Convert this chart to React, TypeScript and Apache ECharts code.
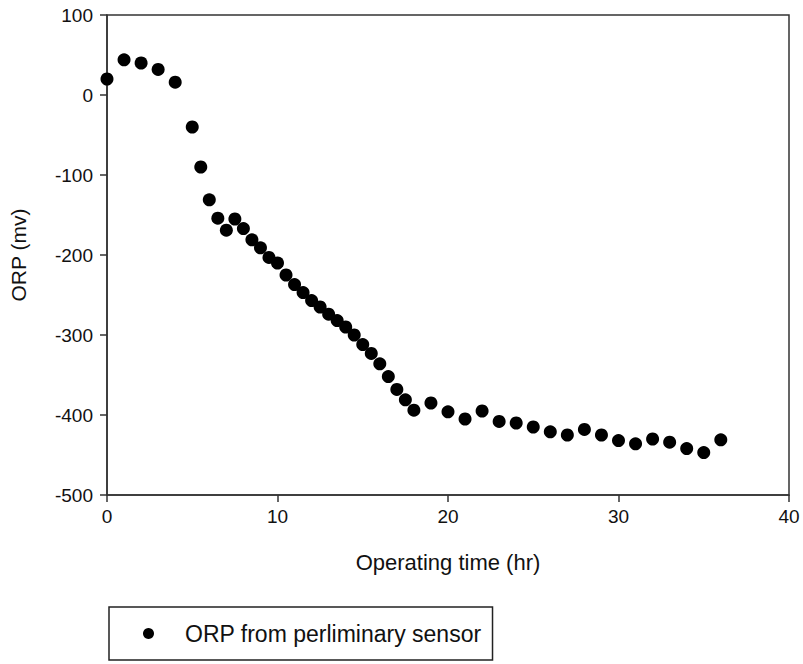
import React, { useEffect, useRef } from "react";
import * as echarts from "echarts";

const timeHr = [0, 1, 2, 3, 4, 5, 5.5, 6, 6.5, 7, 7.5, 8, 8.5, 9, 9.5, 10, 10.5, 11, 11.5, 12, 12.5, 13, 13.5, 14, 14.5, 15, 15.5, 16, 16.5, 17, 17.5, 18, 19, 20, 21, 22, 23, 24, 25, 26, 27, 28, 29, 30, 31, 32, 33, 34, 35, 36];
const orpMv = [20, 44, 40, 32, 16, -40, -90, -131, -154, -169, -155, -167, -181, -191, -203, -210, -225, -237, -247, -257, -265, -274, -282, -290, -300, -312, -323, -336, -352, -368, -381, -394, -385, -396, -405, -395, -408, -410, -415, -421, -425, -418, -425, -432, -436, -430, -434, -442, -447, -431];
const seriesName = "ORP from perliminary sensor";
const xTitle = "Operating time (hr)";
const yTitle = "ORP (mv)";

export default function App() {
  const ref = useRef<HTMLDivElement>(null);
  useEffect(() => {
    if (!ref.current) return;
    const chart = echarts.init(ref.current, null, { renderer: "svg" });
    const font = "'Liberation Sans', Arial, sans-serif";
    const data = timeHr.map((t, i) => [t, orpMv[i]]);
    chart.setOption({
      animation: false,
      backgroundColor: "#fff",
      textStyle: { fontFamily: font },
      grid: {
        left: 107,
        right: 14,
        top: 15,
        bottom: 169,
        show: true,
        borderColor: "#333",
        borderWidth: 1.5,
        backgroundColor: "transparent",
      },
      legend: {
        left: 109,
        top: 607,
        orient: "horizontal",
        borderColor: "#222",
        borderWidth: 1.5,
        padding: [15, 11, 15, 34],
        itemWidth: 11,
        itemHeight: 11,
        itemGap: 5,
        data: [{ name: seriesName, icon: "circle", itemStyle: { color: "#000", opacity: 1 } }],
        textStyle: {
          fontFamily: font,
          fontSize: 23,
          color: "#111",
          padding: [0, 0, 0, 26],
        },
      },
      xAxis: {
        type: "value",
        min: 0,
        max: 40,
        interval: 10,
        name: xTitle,
        nameLocation: "middle",
        nameGap: 56,
        nameTextStyle: { fontFamily: font, fontSize: 22, color: "#111" },
        axisLine: { show: true, onZero: false, lineStyle: { color: "#333", width: 1.5 } },
        axisTick: { show: true, inside: false, length: 7, lineStyle: { color: "#333", width: 1.5 } },
        axisLabel: { fontFamily: font, fontSize: 19, color: "#111", margin: 12 },
        splitLine: { show: false },
      },
      yAxis: {
        type: "value",
        min: -500,
        max: 100,
        interval: 100,
        name: yTitle,
        nameLocation: "middle",
        nameGap: 78,
        nameTextStyle: { fontFamily: font, fontSize: 21, color: "#111" },
        axisLine: { show: true, onZero: false, lineStyle: { color: "#333", width: 1.5 } },
        axisTick: { show: true, inside: false, length: 7, lineStyle: { color: "#333", width: 1.5 } },
        axisLabel: { fontFamily: font, fontSize: 19, color: "#111", margin: 14 },
        splitLine: { show: false },
      },
      series: [
        {
          name: seriesName,
          type: "scatter",
          symbol: "circle",
          symbolSize: 13,
          itemStyle: { color: "#000", opacity: 1 },
          data,
        },
      ],
    });
    return () => chart.dispose();
  }, []);
  return <div ref={ref} style={{ width: 803, height: 664, position: "absolute", left: 0, top: 0 }} />;
}
